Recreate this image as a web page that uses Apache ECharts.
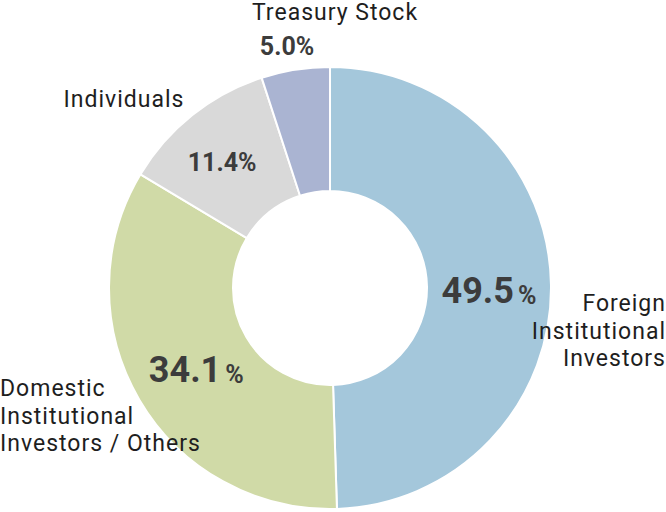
<!DOCTYPE html>
<html>
<head>
<meta charset="utf-8">
<script src="https://cdn.jsdelivr.net/npm/echarts@6/dist/echarts.min.js"></script>
<style>
html, body { margin: 0; padding: 0; background: #fff; }
#main { width: 666px; height: 512px; }
/* names are set a little loose in the original */
#main text[style*="23px"] { letter-spacing: 1px; }
</style>
</head>
<body>
<div id="main"></div>
<script>
// shareholder groups, clockwise from 12 o'clock
var names = ['Foreign\nInstitutional\nInvestors', 'Domestic\nInstitutional\nInvestors / Others', 'Individuals', 'Treasury Stock'];
var shares = [49.5, 34.1, 11.4, 5.0];
var colors = ['#a4c7db', '#d0daa7', '#d9d9d9', '#aab4d2'];

var chart = echarts.init(document.getElementById('main'), null, { renderer: 'svg' });

var pieData = [];
for (var i = 0; i < shares.length; i++) {
	var big = shares[i] > 30;
	pieData.push({
		name: names[i],
		value: shares[i],
		itemStyle: { color: colors[i] },
		label: {
			position: i == 3 ? 'outside' : 'inside',
			formatter: big ? '{v|' + shares[i].toFixed(1) + '}{p|%}' : '{s|' + shares[i].toFixed(1) + '%}'
		},
		labelLine: { show: false, length: 22, length2: 0 }
	});
}

// small nudges so the value labels sit where the original has them
var labelShift = [[-3, 6], [6, 0], [-7, 1], [0, -1]];

// category names sit outside the ring, on top of it
var namePos = [
	{ x: 666, y: 331, align: 'right' },
	{ x: 0, y: 416, align: 'left' },
	{ x: 124, y: 99, align: 'center' },
	{ x: 335, y: 12.5, align: 'center' }
];
var nameTexts = [];
for (var j = 0; j < names.length; j++) {
	nameTexts.push({
		type: 'text',
		x: namePos[j].x,
		y: namePos[j].y,
		z: 100,
		silent: true,
		style: {
			text: names[j],
			font: '23px Roboto',
			fill: '#1e1e1e',
			lineHeight: names[j].indexOf('\n') >= 0 ? 27.5 : 23,
			align: namePos[j].align,
			verticalAlign: 'middle'
		}
	});
}

chart.setOption({
	animation: false,
	graphic: { elements: nameTexts },
	series: [{
		type: 'pie',
		z: 1,
		center: [330, 288],
		radius: [97, 221],
		startAngle: 90,
		clockwise: true,
		avoidLabelOverlap: false,
		itemStyle: { borderColor: '#fff', borderWidth: 2 },
		label: {
			show: true,
			color: '#3c3c3c',
			fontFamily: 'Roboto',
			rich: {
				v: { fontSize: 36, fontWeight: 'bold', color: '#3c3c3c', fontFamily: 'Roboto' },
				p: { fontSize: 25, fontWeight: 'bold', color: '#3c3c3c', fontFamily: 'Roboto', padding: [8, 0, 0, 4] },
				s: { fontSize: 25, fontWeight: 'bold', color: '#3c3c3c', fontFamily: 'Roboto' }
			}
		},
		labelLayout: function (params) {
			var s = labelShift[params.dataIndex];
			var out = { dx: s[0], dy: s[1] };
			if (params.dataIndex == 3) {
				out.align = 'center';
			}
			return out;
		},
		data: pieData
	}]
});
</script>
</body>
</html>
